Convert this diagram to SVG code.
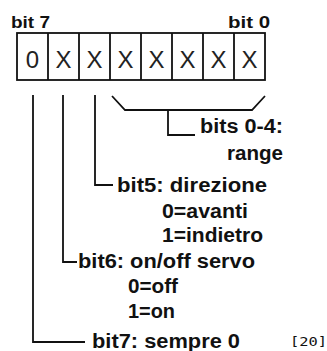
<svg xmlns="http://www.w3.org/2000/svg" width="327" height="351" viewBox="0 0 327 351">
<style>
.lbl{font-family:"Liberation Sans",Arial,sans-serif;font-weight:bold;font-size:19.5px;fill:#111}
.hdr{font-family:"Liberation Sans",Arial,sans-serif;font-weight:bold;font-size:16px;fill:#111}
.cell{font-family:"Liberation Sans",Arial,sans-serif;font-size:24px;fill:#222;text-anchor:middle}
.ln{fill:none;stroke:#111;stroke-width:1.8}
.ref{font-family:"DejaVu Sans Mono",monospace;font-size:13px;fill:#111}
</style>
<rect width="327" height="351" fill="#fff"/>
<g id="register">
<text class="hdr" x="11" y="28" textLength="39" lengthAdjust="spacingAndGlyphs">bit 7</text>
<text class="hdr" x="228" y="28" textLength="42" lengthAdjust="spacingAndGlyphs">bit 0</text>
<rect class="ln" x="17" y="33" width="248" height="47"/>
<path class="ln" d="M48 33V80M79 33V80M110 33V80M141 33V80M172 33V80M203 33V80M234 33V80"/>
<text class="cell" x="32.5" y="68">0</text>
<text class="cell" x="63.5" y="68">X</text>
<text class="cell" x="94.5" y="68">X</text>
<text class="cell" x="125.5" y="68">X</text>
<text class="cell" x="156.5" y="68">X</text>
<text class="cell" x="187.5" y="68">X</text>
<text class="cell" x="218.5" y="68">X</text>
<text class="cell" x="249.5" y="68">X</text>
</g>
<g id="connectors">
<path class="ln" d="M112 96L125 110H252L265 96"/>
<path class="ln" d="M168 110V135H195"/>
<path class="ln" d="M95 95V185H113"/>
<path class="ln" d="M63 95V262H77"/>
<path class="ln" d="M33 95V342H85"/>
</g>
<g id="bits04">
<text class="lbl" x="200" y="133" textLength="83" lengthAdjust="spacingAndGlyphs">bits 0-4:</text>
<text class="lbl" x="227" y="160" textLength="56" lengthAdjust="spacingAndGlyphs">range</text>
</g>
<g id="bit5">
<text class="lbl" x="117" y="192" textLength="150" lengthAdjust="spacingAndGlyphs">bit5: direzione</text>
<text class="lbl" x="162" y="218" textLength="86" lengthAdjust="spacingAndGlyphs">0=avanti</text>
<text class="lbl" x="162" y="242" textLength="101" lengthAdjust="spacingAndGlyphs">1=indietro</text>
</g>
<g id="bit6">
<text class="lbl" x="78" y="268" textLength="177" lengthAdjust="spacingAndGlyphs">bit6: on/off servo</text>
<text class="lbl" x="128" y="293" textLength="50" lengthAdjust="spacingAndGlyphs">0=off</text>
<text class="lbl" x="128" y="318" textLength="47" lengthAdjust="spacingAndGlyphs">1=on</text>
</g>
<g id="bit7">
<text class="lbl" x="92" y="348" textLength="148" lengthAdjust="spacingAndGlyphs">bit7: sempre 0</text>
</g>
<text class="ref" x="290" y="346" textLength="37" lengthAdjust="spacingAndGlyphs">[20]</text>
</svg>
